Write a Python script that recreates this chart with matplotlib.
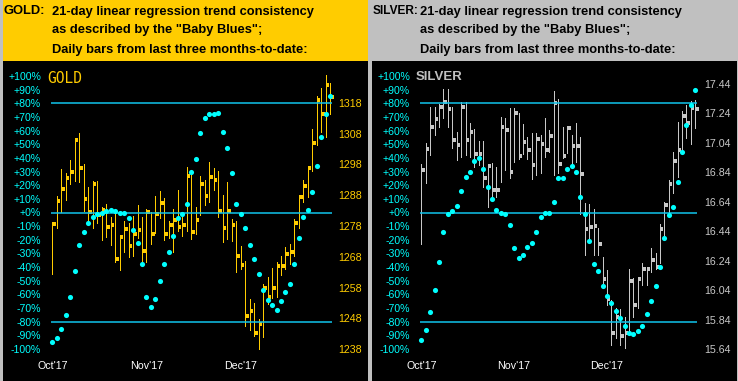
#%%
# imports
import numpy as np
import matplotlib
matplotlib.use("Agg")
from matplotlib import pyplot as plt
from matplotlib import patches

# %%
# data (63 trading days, Oct'17 .. early Jan'18)
month_labels = ["Oct'17", "Nov'17", "Dec'17"]
month_pos = [0, 21, 42]

gold_high = [1278.8, 1287.6, 1296.4, 1295.3, 1299.4, 1306.2, 1308.1, 1298.1, 1290.6, 1292.5,
             1292.5, 1284.2, 1285.0, 1280.8, 1283.4, 1274.7, 1279.5, 1278.9, 1281.4, 1284.7,
             1280.8, 1283.4, 1282.6, 1287.6, 1289.3, 1287.2, 1279.5, 1283.4, 1289.6, 1282.0,
             1297.1, 1294.7, 1284.1, 1294.2, 1292.9, 1298.7, 1296.8, 1295.8, 1288.0, 1292.2,
             1280.2, 1279.5, 1271.4, 1266.5, 1254.2, 1253.0, 1247.6, 1259.2, 1261.3, 1264.2,
             1266.4, 1268.1, 1271.1, 1272.0, 1280.2, 1288.0, 1292.9, 1297.0, 1309.4, 1320.3,
             1322.8, 1327.0, 1324.4]
gold_low = [1262.3, 1277.3, 1282.6, 1286.3, 1291.7, 1292.5, 1292.3, 1282.9, 1278.4, 1277.3,
            1279.0, 1273.4, 1274.3, 1271.7, 1266.3, 1263.7, 1269.5, 1267.9, 1268.2, 1274.0,
            1265.4, 1266.3, 1272.1, 1275.7, 1280.6, 1273.4, 1274.1, 1269.5, 1276.5, 1274.7,
            1276.4, 1273.9, 1275.4, 1281.5, 1284.9, 1285.8, 1289.7, 1280.9, 1272.8, 1273.9,
            1273.1, 1263.0, 1264.1, 1245.5, 1244.1, 1242.2, 1238.0, 1241.9, 1252.6, 1254.7,
            1254.9, 1262.1, 1264.0, 1265.5, 1268.1, 1277.3, 1285.8, 1287.4, 1295.9, 1304.2,
            1308.6, 1306.9, 1314.4]
gold_close = [1278.7, 1286.1, 1290.0, 1293.6, 1295.6, 1306.0, 1296.9, 1286.8, 1282.6, 1291.7,
              1281.5, 1283.2, 1277.7, 1278.3, 1267.4, 1274.4, 1277.0, 1271.5, 1275.4, 1276.8,
              1269.9, 1282.6, 1275.4, 1281.9, 1285.5, 1275.4, 1278.3, 1280.1, 1277.7, 1278.3,
              1294.3, 1276.0, 1280.1, 1291.8, 1287.8, 1294.0, 1293.1, 1282.8, 1277.3, 1283.0,
              1278.3, 1268.2, 1265.3, 1248.8, 1250.4, 1243.3, 1246.1, 1257.9, 1255.0, 1257.9,
              1265.0, 1264.9, 1269.0, 1269.5, 1279.0, 1287.4, 1291.0, 1296.9, 1305.0, 1319.0,
              1314.4, 1323.9, 1320.0]
gold_trend = [-95, -92, -85, -75, -62, -43, -24, -14, -8, -3,
              -1, 0, 1, 2, 1, 0, 0, -4, -13, -22,
              -38, -62, -69, -63, -50, -38, -29, -17, -4, -1,
              6, 30, 39, 58, 69, 72, 72, 73, 59, 47,
              29, 6, -1, -11, -24, -34, -45, -57, -64, -68,
              -71, -65, -58, -52, -38, -19, -3, 2, 15, 34,
              55, 72, 85]

silver_high = [16.896, 17.037, 17.281, 17.286, 17.302, 17.406, 17.406, 17.281, 17.116, 17.315,
               17.315, 17.173, 17.134, 17.053, 17.053, 16.890, 16.905, 16.874, 17.218, 17.207,
               17.275, 17.275, 17.241, 17.166, 17.082, 17.105, 17.105, 17.093, 17.207, 17.127,
               17.392, 17.338, 17.150, 17.150, 17.093, 17.173, 17.082, 16.629, 16.625, 16.591,
               16.459, 16.267, 16.176, 15.972, 15.916, 15.909, 15.859, 16.181, 16.120, 16.120,
               16.221, 16.199, 16.323, 16.289, 16.489, 16.640, 16.788, 16.980, 17.184, 17.257,
               17.297, 17.324, 17.331]
silver_low = [16.355, 16.770, 16.958, 17.093, 17.150, 17.211, 17.150, 17.003, 16.926, 16.946,
              16.958, 16.946, 16.878, 16.890, 16.742, 16.606, 16.679, 16.674, 16.776, 16.856,
              16.799, 16.912, 16.928, 16.962, 16.930, 16.794, 16.822, 16.833, 16.946, 16.980,
              16.822, 16.833, 16.935, 16.969, 16.901, 16.912, 16.557, 16.278, 16.391, 16.278,
              16.278, 16.070, 15.938, 15.667, 15.712, 15.667, 15.644, 15.735, 15.859, 15.920,
              16.074, 16.074, 16.165, 16.181, 16.221, 16.391, 16.554, 16.697, 16.806, 16.996,
              17.075, 17.032, 17.139]
silver_close = [16.858, 17.001, 17.150, 17.200, 17.281, 17.320, 17.272, 17.057, 17.026, 17.281,
                17.057, 17.112, 16.962, 16.962, 16.804, 16.883, 16.722, 16.722, 17.150, 17.127,
                16.840, 17.241, 16.951, 17.044, 16.992, 16.890, 17.066, 17.030, 16.989, 17.089,
                17.311, 16.894, 16.951, 17.143, 17.021, 17.021, 16.828, 16.455, 16.471, 16.477,
                16.351, 16.118, 15.979, 15.750, 15.859, 15.730, 15.750, 16.104, 15.941, 16.113,
                16.185, 16.185, 16.244, 16.199, 16.455, 16.618, 16.760, 16.919, 16.992, 17.225,
                17.173, 17.279, 17.268]
silver_trend = [-93, -86, -73, -57, -36, -14, -1, 1, 5, 16,
                26, 30, 38, 40, 32, 19, 10, 2, 0, -1,
                -9, -26, -33, -31, -25, -22, -14, -3, 0, 0,
                8, 25, 25, 32, 34, 30, 11, -1, -21, -38,
                -43, -54, -61, -66, -72, -77, -83, -88, -89, -87,
                -83, -74, -65, -54, -40, -19, -2, 4, 22, 44,
                64, 79, 90]

pct_ticks = np.arange(-100, 101, 10)
gold_ticks = np.arange(1238, 1319, 10)
silver_ticks = np.round(np.arange(15.64, 17.45, 0.2), 2)

# %%
# colours / fonts
GOLD_C = "#FFCC00"
SILVER_C = "#C8C8C8"
HDR_SILVER = "#C0C0C0"
CYAN = "#00FFFF"
LINE_C = "#10C4EC"
LBL_FONT = ["Liberation Sans", "DejaVu Sans"]

W, H = 738, 381
fig = plt.figure(figsize=(W / 100, H / 100), dpi=100, facecolor="black")


def px_axes(x0, y0, x1, y1, **kw):
    # axes placed by pixel box (top-left origin)
    return fig.add_axes([x0 / W, 1 - y1 / H, (x1 - x0) / W, (y1 - y0) / H], **kw)


def header(x0, x1, bg, name, name_size, txt_x):
    hax = px_axes(x0, 0, x1, 61)
    hax.set_xlim(x0, x1)
    hax.set_ylim(61, 0)
    hax.axis("off")
    hax.add_patch(patches.Rectangle((x0, 0), x1 - x0, 61, color=bg, zorder=0))
    lines = ['21-day linear regression trend consistency',
             'as described by the "Baby Blues";',
             'Daily bars from last three months-to-date:']
    kw = dict(fontweight="bold", family=LBL_FONT, color="black", va="center")
    hax.text(x0 + 3, 11.5, name, fontsize=name_size, **kw)
    for i, s in enumerate(lines):
        hax.text(txt_x, 11.5 + i * 19, s, fontsize=9.3, **kw)


def panel(x0, x1, xlim, plim, name, name_kw, high, low, close, trend, pticks, pfmt, bar_c, lbl_c):
    axp = px_axes(x0, 70, x1, 355)
    axp.set_facecolor("black")
    axq = axp.twinx()
    idx = np.arange(len(close))

    # price axis: OHLC-style bars (high-low + close tick)
    axp.vlines(idx, low, high, color=bar_c, lw=0.6, antialiased=False)
    axp.hlines(close, idx, idx + 0.8, color=bar_c, lw=1.5, antialiased=False)
    axp.set_xlim(*xlim)
    axp.set_ylim(*plim)
    axp.yaxis.tick_right()
    axp.set_yticks(pticks)
    axp.set_yticklabels([pfmt(v) for v in pticks])
    axp.tick_params(axis="y", which="both", left=False, labelleft=False, length=0,
                    right=False, labelright=True, pad=3, labelsize=7.7, labelcolor=lbl_c)
    axp.set_xticks(month_pos)
    axp.set_xticklabels(month_labels)
    axp.tick_params(axis="x", length=0, pad=4, labelsize=7.7, labelcolor="white")

    # trend-consistency axis
    axq.set_ylim(-104.3, 104.3)
    axq.set_yticks(pct_ticks)
    axq.set_yticklabels([f"{v:+d}%" for v in pct_ticks])
    axq.tick_params(axis="y", which="both", right=False, labelright=False, length=0,
                    left=False, labelleft=True, pad=2.2, labelsize=7.6, labelcolor=CYAN)
    axq.hlines([80, 0, -80], -0.3, len(close) - 0.6, color=LINE_C, lw=1.1)
    axq.plot(idx, trend, "o", ms=3.7, mew=0, color=CYAN)

    for a in (axp, axq):
        for sp in a.spines.values():
            sp.set_visible(False)
        for lab in a.get_xticklabels() + a.get_yticklabels():
            lab.set_family(LBL_FONT)
    axq.text(0.01, 0.995, name, transform=axq.transAxes, va="top", ha="left", **name_kw)
    return axp, axq


header(0, 368, GOLD_C, "GOLD:", 9.3, 52)
header(370, 738, HDR_SILVER, "SILVER:", 8.6, 420)

panel(44, 334, (-1.86, 62.82), (1236.05, 1328.73), "GOLD",
      dict(fontsize=10.5, family="DejaVu Sans Mono", color=GOLD_C),
      gold_high, gold_low, gold_close, gold_trend, gold_ticks, lambda v: f"{v:d}",
      GOLD_C, GOLD_C)
panel(413, 700, (-1.88, 63.06), (15.599, 17.535), "SILVER",
      dict(fontsize=9.5, fontweight="bold", family=LBL_FONT, color=HDR_SILVER),
      silver_high, silver_low, silver_close, silver_trend, silver_ticks, lambda v: f"{v:.2f}",
      SILVER_C, SILVER_C)

# panel frames
frame = px_axes(0, 0, W, H)
frame.set_xlim(0, W)
frame.set_ylim(H, 0)
frame.axis("off")
frame.patch.set_visible(False)
for xx in (0.5, 368.5, 369.5, 737.5):
    frame.plot([xx, xx], [0, H], color=HDR_SILVER, lw=0.8, antialiased=False)

fig.savefig("out.png", dpi=100, facecolor="black")
